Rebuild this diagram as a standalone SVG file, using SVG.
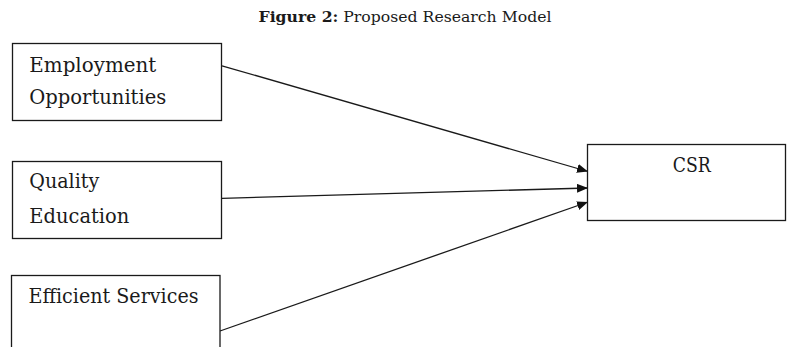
<svg xmlns="http://www.w3.org/2000/svg" width="787" height="347" viewBox="0 0 787 347">
<style>
  .box { fill: #ffffff; stroke: #1a1a1a; stroke-width: 1.3; }
  .lbl { font-family: "DejaVu Serif", "Liberation Serif", serif; font-size: 20px; fill: #1a1a1a; }
  .title { font-family: "DejaVu Serif", "Liberation Serif", serif; font-size: 14.5px; fill: #1a1a1a; }
  .conn { stroke: #1a1a1a; stroke-width: 1.3; fill: none; marker-end: url(#arrow); }
</style>
<defs>
  <marker id="arrow" viewBox="0 0 11 9" refX="11" refY="4.5" markerWidth="11" markerHeight="9" markerUnits="userSpaceOnUse" orient="auto">
    <path d="M0,0 L11,4.5 L0,9 Z" fill="#111111"/>
  </marker>
</defs>
<rect width="787" height="347" fill="#ffffff"/>
<text class="title" x="258.5" y="22.3" textLength="293" lengthAdjust="spacingAndGlyphs"><tspan font-weight="bold">Figure 2:</tspan> Proposed Research Model</text>
<g id="connectors">
  <line class="conn" x1="222" y1="65.8" x2="588" y2="171.5"/>
  <line class="conn" x1="222" y1="198.3" x2="588" y2="188"/>
  <line class="conn" x1="220" y1="331" x2="588" y2="202"/>
</g>
<g id="node-employment">
  <rect class="box" x="12.5" y="43.5" width="209" height="77"/>
  <text class="lbl" x="29.3" y="72.3" textLength="127" lengthAdjust="spacingAndGlyphs">Employment</text>
  <text class="lbl" x="29.3" y="104" textLength="137" lengthAdjust="spacingAndGlyphs">Opportunities</text>
</g>
<g id="node-quality">
  <rect class="box" x="12.5" y="161.5" width="209" height="77"/>
  <text class="lbl" x="29.3" y="188.3" textLength="70" lengthAdjust="spacingAndGlyphs">Quality</text>
  <text class="lbl" x="29.3" y="223.3" textLength="100" lengthAdjust="spacingAndGlyphs">Education</text>
</g>
<g id="node-efficient">
  <rect class="box" x="11.5" y="275.5" width="208.5" height="85"/>
  <text class="lbl" x="28.5" y="303.3" textLength="170" lengthAdjust="spacingAndGlyphs">Efficient Services</text>
</g>
<g id="node-csr">
  <rect class="box" x="587.5" y="144.5" width="198" height="76"/>
  <text class="lbl" x="672.7" y="171.7" textLength="38" lengthAdjust="spacingAndGlyphs">CSR</text>
</g>
</svg>
